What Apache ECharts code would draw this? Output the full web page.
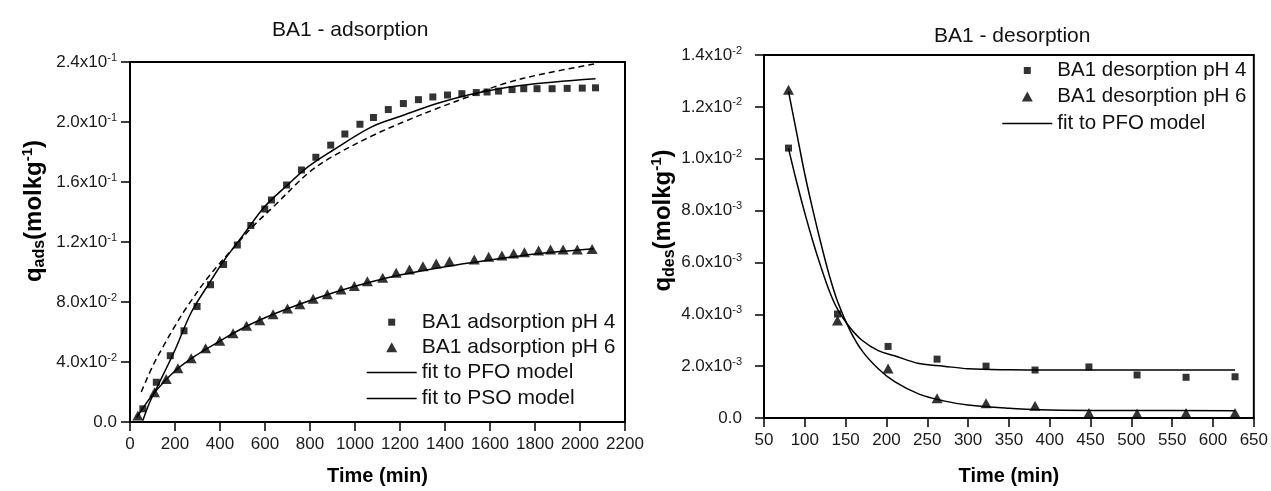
<!DOCTYPE html>
<html>
<head>
<meta charset="utf-8">
<script src="https://cdn.jsdelivr.net/npm/echarts@6/dist/echarts.min.js"></script>
<style>
  html, body { margin: 0; padding: 0; background: #fff; }
  #chart { width: 1271px; height: 491px; }
</style>
</head>
<body>
<div id="chart"></div>
<script>
// adsorption, pH 4 (squares)
const adsTime4 = [57, 117, 179, 240, 298, 358, 416, 477, 537, 599, 629, 696, 762, 826, 892, 955, 1022, 1082, 1148, 1215, 1282, 1346, 1411, 1475, 1539, 1587, 1638, 1698, 1750, 1809, 1876, 1943, 2010, 2069]
const adsQ4 = [0.0088, 0.0265, 0.0442, 0.0608, 0.077, 0.0915, 0.105, 0.118, 0.131, 0.142, 0.148, 0.158, 0.168, 0.1765, 0.1846, 0.192, 0.1985, 0.203, 0.2083, 0.2123, 0.2149, 0.2167, 0.218, 0.2189, 0.2196, 0.22, 0.2206, 0.2216, 0.2222, 0.2222, 0.2222, 0.2224, 0.2226, 0.2228]
// adsorption, pH 6 (triangles)
const adsTime6 = [35, 109, 161, 213, 272, 336, 399, 458, 518, 577, 636, 700, 755, 814, 877, 938, 997, 1055, 1123, 1183, 1242, 1302, 1361, 1420, 1530, 1594, 1653, 1705, 1753, 1816, 1869, 1925, 1988, 2054]
const adsQ6 = [0.0044, 0.0199, 0.0287, 0.0358, 0.0425, 0.0491, 0.0541, 0.0592, 0.0641, 0.0679, 0.0718, 0.0756, 0.0785, 0.0822, 0.0851, 0.0884, 0.0906, 0.0939, 0.0962, 0.0995, 0.1017, 0.1039, 0.1057, 0.1072, 0.1083, 0.1101, 0.111, 0.1123, 0.1132, 0.1143, 0.115, 0.115, 0.115, 0.1154]

// fitted curves
const pfoAds4Time = [57, 90, 124, 200, 272, 350, 421, 500, 599, 700, 792, 900, 1074, 1215, 1364, 1512, 1735, 2069]
const pfoAds4Q = [0.001, 0.014, 0.0243, 0.048, 0.073, 0.092, 0.1083, 0.124, 0.1437, 0.158, 0.1702, 0.181, 0.1968, 0.2045, 0.2123, 0.2184, 0.2244, 0.2289]
const psoAds4Time = [50, 100, 150, 200, 250, 350, 465, 550, 644, 792, 900, 1082, 1215, 1364, 1498, 1661, 1839, 2069]
const psoAds4Q = [0.020, 0.037, 0.051, 0.064, 0.076, 0.097, 0.117, 0.131, 0.1445, 0.1659, 0.177, 0.1912, 0.2, 0.209, 0.2165, 0.2255, 0.2322, 0.2388]
const pfoAds6Time = [30, 100, 200, 300, 400, 500, 600, 700, 800, 900, 1000, 1100, 1200, 1400, 1600, 1800, 2060]
const pfoAds6Q = [0.003, 0.018, 0.034, 0.045, 0.054, 0.0625, 0.0695, 0.0755, 0.081, 0.086, 0.0905, 0.0945, 0.098, 0.1035, 0.108, 0.112, 0.1155]

// desorption
const desTime = [80, 140, 202, 262, 322, 382, 448, 507, 567, 627]
const desQ4 = [0.01041, 0.00401, 0.00276, 0.00227, 0.002, 0.00185, 0.00197, 0.00166, 0.00157, 0.00159]
const desQ6 = [0.01266, 0.00376, 0.00191, 0.00076, 0.00057, 0.00047, 0.00019, 0.00017, 0.00019, 0.00019]
const fitDesTime = [80, 90, 100, 110, 120, 130, 140, 155, 170, 190, 210, 240, 270, 300, 350, 400, 500, 627]
const fitDesQ4 = [0.0104, 0.0091, 0.0079, 0.0068, 0.0058, 0.0049, 0.0042, 0.0035, 0.003, 0.0026, 0.0024, 0.0021, 0.002, 0.0019, 0.00186, 0.00185, 0.00185, 0.00185]
const fitDesQ6 = [0.0126, 0.011, 0.0094, 0.008, 0.0067, 0.0055, 0.0045, 0.0034, 0.0026, 0.0019, 0.0014, 0.00092, 0.00066, 0.0005, 0.00038, 0.00031, 0.00029, 0.00028]

// tick labels: mantissa|exponent
const adsYLabels = ['0.0', '4.0x10|-2', '8.0x10|-2', '1.2x10|-1', '1.6x10|-1', '2.0x10|-1', '2.4x10|-1']
const desYLabels = ['0.0', '2.0x10|-3', '4.0x10|-3', '6.0x10|-3', '8.0x10|-3', '1.0x10|-2', '1.2x10|-2', '1.4x10|-2']

const FONT = '"Liberation Sans", Arial, sans-serif'
const zip = (xs, ys) => xs.map((x, i) => [x, ys[i]])

// legend marks: invisible moveTo corners keep the 50px wide box so the mark sits in the middle
const SQUARE_ICON = 'path://M0,0M50,7M21.5,0L28.5,0L28.5,7L21.5,7Z'
const TRIANGLE_ICON = 'path://M0,0M50,10M19.5,10L25,0L30.5,10Z'

function sciLabel (labels, step) {
  return function (v) {
    const s = labels[Math.round(v / step)] || ''
    const p = s.split('|')
    return p.length > 1 ? '{m|' + p[0] + '}{e|' + p[1] + '}' : '{m|' + p[0] + '}'
  }
}

const labelRich = {
  m: { fontSize: 17, fontFamily: FONT, color: '#1a1a1a', lineHeight: 20 },
  e: { fontSize: 11, fontFamily: FONT, color: '#1a1a1a', lineHeight: 10, verticalAlign: 'top' }
}

function xAxisOf (gridIndex, min, max, interval, gap) {
  return {
    type: 'value',
    gridIndex,
    min,
    max,
    interval,
    name: 'Time (min)',
    nameLocation: 'middle',
    nameGap: gap,
    nameTextStyle: { fontFamily: FONT, fontWeight: 'bold', fontSize: 20, color: '#000' },
    axisLine: { onZero: false, lineStyle: { color: '#000', width: 2 } },
    axisTick: { inside: false, length: 9, lineStyle: { color: '#000', width: 1.5 } },
    axisLabel: { fontFamily: FONT, fontSize: 17, color: '#1a1a1a', margin: 14, formatter: v => String(v) },
    splitLine: { show: false }
  }
}

function yAxisOf (gridIndex, max, interval, labels, sub, gap, margin, shift) {
  return {
    type: 'value',
    gridIndex,
    min: 0,
    max,
    interval,
    name: '{b|q}{s|' + sub + '}{b|(molkg}{p|-1}{b|)}',
    nameLocation: 'middle',
    nameRotate: 90,
    nameGap: gap,
    nameTextStyle: {
      padding: [0, 0, 0, shift],
      rich: {
        b: { fontFamily: FONT, fontWeight: 'bold', fontSize: 24, color: '#000', lineHeight: 28 },
        s: { fontFamily: FONT, fontWeight: 'bold', fontSize: 16, color: '#000', lineHeight: 14, verticalAlign: 'bottom' },
        p: { fontFamily: FONT, fontWeight: 'bold', fontSize: 15, color: '#000', lineHeight: 14, verticalAlign: 'top' }
      }
    },
    axisLine: { onZero: false, lineStyle: { color: '#000', width: 2 } },
    axisTick: { inside: false, length: 9, lineStyle: { color: '#000', width: 1.5 } },
    axisLabel: { formatter: sciLabel(labels, interval), rich: labelRich, margin },
    splitLine: { show: false }
  }
}

function scatter (name, axis, data, symbol, size) {
  return {
    name,
    type: 'scatter',
    xAxisIndex: axis,
    yAxisIndex: axis,
    symbol,
    symbolSize: size,
    itemStyle: { color: '#000' },
    z: 5,
    data
  }
}

function fitLine (name, axis, data, dashed) {
  return {
    name,
    type: 'line',
    xAxisIndex: axis,
    yAxisIndex: axis,
    smooth: 0.35,
    symbol: 'none',
    itemStyle: { color: '#000' },
    lineStyle: { color: '#000', width: 1.5, type: dashed ? [6, 4] : 'solid' },
    z: 3,
    data
  }
}

function legendRow (name, left, top, icon, itemHeight, fontSize) {
  return {
    data: [{ name, icon }],
    left,
    top,
    orient: 'vertical',
    padding: 0,
    itemWidth: 50,
    itemHeight,
    selectedMode: false,
    textStyle: { fontFamily: FONT, fontSize, color: '#111', lineHeight: 20 }
  }
}

const chart = echarts.init(document.getElementById('chart'))
chart.setOption({
  animation: false,
  backgroundColor: '#fff',
  title: [
    { text: 'BA1 - adsorption', left: 267, top: 15, textStyle: { fontFamily: FONT, fontWeight: 'normal', fontSize: 21, color: '#111' } },
    { text: 'BA1 - desorption', left: 929, top: 21, textStyle: { fontFamily: FONT, fontWeight: 'normal', fontSize: 21, color: '#111' } }
  ],
  grid: [
    { left: 130, right: 646, top: 62, bottom: 67, show: true, borderColor: '#000', borderWidth: 2 },
    { left: 764, right: 15, top: 55, bottom: 69, show: true, borderColor: '#000', borderWidth: 2 }
  ],
  xAxis: [
    xAxisOf(0, 0, 2200, 200, 44),
    xAxisOf(1, 50, 650, 50, 48)
  ],
  yAxis: [
    yAxisOf(0, 0.24, 0.04, adsYLabels, 'ads', 82, 13, 62),
    yAxisOf(1, 0.014, 0.002, desYLabels, 'des', 78, 22, 32)
  ],
  legend: [
    legendRow('BA1 adsorption pH 4', 366.7, 311.7, SQUARE_ICON, 7, 21),
    legendRow('BA1 adsorption pH 6', 366.7, 336.7, TRIANGLE_ICON, 10, 21),
    legendRow('fit to PFO model', 366.7, 362, 'rect', 1.5, 21),
    legendRow('fit to PSO model', 366.7, 388, 'rect', 1.5, 21),
    legendRow('BA1 desorption pH 4', 1002.3, 60, SQUARE_ICON, 7, 20.5),
    legendRow('BA1 desorption pH 6', 1002.3, 86, TRIANGLE_ICON, 10, 20.5),
    legendRow('fit to PFO model', 1002.3, 113, 'rect', 1.5, 20.5)
  ],
  series: [
    fitLine('fit to PFO model', 0, zip(pfoAds4Time, pfoAds4Q), false),
    fitLine('fit to PFO model', 0, zip(pfoAds6Time, pfoAds6Q), false),
    fitLine('fit to PSO model', 0, zip(psoAds4Time, psoAds4Q), true),
    scatter('BA1 adsorption pH 4', 0, zip(adsTime4, adsQ4), 'rect', 7),
    scatter('BA1 adsorption pH 6', 0, zip(adsTime6, adsQ6), 'triangle', [11, 10]),
    fitLine('fit to PFO model', 1, zip(fitDesTime, fitDesQ4), false),
    fitLine('fit to PFO model', 1, zip(fitDesTime, fitDesQ6), false),
    scatter('BA1 desorption pH 4', 1, zip(desTime, desQ4), 'rect', 7),
    scatter('BA1 desorption pH 6', 1, zip(desTime, desQ6), 'triangle', [11, 10])
  ]
})
</script>
</body>
</html>
